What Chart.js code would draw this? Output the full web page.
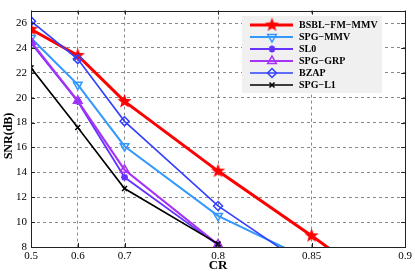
<!DOCTYPE html>
<html>
<head>
<meta charset="utf-8">
<script src="https://cdn.jsdelivr.net/npm/chart.js@4/dist/chart.umd.min.js"></script>
<style>
  html, body { margin: 0; padding: 0; background: #fff; }
  #wrap { width: 415px; height: 275px; }
</style>
</head>
<body>
<div id="wrap"><canvas id="c" width="415" height="275"></canvas></div>
<script>
// compression ratios; the original figure spaces them unevenly (index on x)
const crLabels = ["0.5", "0.6", "0.7", "0.8", "0.85", "0.9"];
const crIndex = [0, 1, 2, 4, 6, 8];
const snrTicks = [8, 10, 12, 14, 16, 18, 20, 22, 24, 26];

const seriesNames = ["BSBL\u2212FM\u2212MMV", "SPG\u2212MMV", "SL0", "SPG\u2212GRP", "BZAP", "SPG\u2212L1"];
const bsblFmMmv = [25.5, 23.4, 19.7, 14.1, 8.9, 3.5];
const spgMmv = [24.8, 21.05, 16.1, 10.5, 6.9, null];
const sl0 = [24.4, 19.7, 13.6, 8.15, null, null];
const spgGrp = [24.5, 19.75, 14.2, 8.2, null, null];
const bzap = [26.15, 23.1, 18.1, 11.3, 6.2, null];
const spgL1 = [22.4, 17.6, 12.7, 8.25, null, null];

const serif = "'Liberation Serif', 'DejaVu Serif', serif";

function starImage(r, color) {
  const s = Math.ceil(r * 2 + 2);
  const c = document.createElement("canvas");
  c.width = s;
  c.height = s;
  const g = c.getContext("2d");
  g.fillStyle = color;
  g.beginPath();
  for (let i = 0; i < 10; i++) {
    const rad = i % 2 ? r * 0.42 : r;
    const a = -Math.PI / 2 + (i * Math.PI) / 5;
    g.lineTo(s / 2 + rad * Math.cos(a), s / 2 + rad * Math.sin(a));
  }
  g.closePath();
  g.fill();
  return c;
}

function pts(values) {
  return values.map((v, i) => ({ x: crIndex[i], y: v }));
}

const styles = [
  { color: "#ff0000", width: 3, point: starImage(7.5, "#ff0000"), radius: 7, bw: 0, fill: "#ff0000" },
  { color: "#3399ff", width: 2, point: "triangle", rotation: 180, radius: 5, bw: 1.5, fill: "rgba(0,0,0,0)" },
  { color: "#6633ff", width: 1.8, point: "star", radius: 3.5, bw: 2, fill: "#6633ff" },
  { color: "#a633f5", width: 2.2, point: "triangle", radius: 5, bw: 1.5, fill: "rgba(0,0,0,0)" },
  { color: "#3340ff", width: 1.6, point: "rectRot", radius: 4.5, bw: 1.5, fill: "rgba(0,0,0,0)" },
  { color: "#000000", width: 1.6, point: "crossRot", radius: 3.5, bw: 1.5, fill: "#000000" },
];
const allValues = [bsblFmMmv, spgMmv, sl0, spgGrp, bzap, spgL1];

const datasets = allValues.map((vals, i) => {
  const s = styles[i];
  return {
    label: seriesNames[i],
    data: pts(vals),
    borderColor: s.color,
    backgroundColor: s.fill,
    borderWidth: s.width,
    pointStyle: s.point,
    pointRotation: s.rotation || 0,
    pointRadius: s.radius,
    pointBorderWidth: s.bw,
    pointBackgroundColor: s.fill,
    pointBorderColor: s.color,
    tension: 0,
    spanGaps: false,
    clip: 0,
    order: 6 - i,
  };
});

const framePlugin = {
  id: "frame",
  afterDatasetsDraw(chart) {
    const { ctx, chartArea: a, scales } = chart;
    ctx.save();
    ctx.strokeStyle = "#222";
    ctx.lineWidth = 1;
    ctx.setLineDash([]);
    ctx.beginPath();
    snrTicks.forEach((t) => {
      const y = Math.round(scales.y.getPixelForValue(t)) + 0.5;
      ctx.moveTo(a.left, y); ctx.lineTo(a.left + 4, y);
      ctx.moveTo(a.right, y); ctx.lineTo(a.right - 4, y);
    });
    crIndex.forEach((t) => {
      const x = Math.round(scales.x.getPixelForValue(t)) + 0.5;
      ctx.moveTo(x, a.bottom); ctx.lineTo(x, a.bottom - 4);
      ctx.moveTo(x, a.top); ctx.lineTo(x, a.top + 4);
    });
    ctx.stroke();
    ctx.strokeRect(Math.round(a.left) + 0.5, Math.round(a.top) + 0.5,
      Math.round(a.right - a.left), Math.round(a.bottom - a.top));

    // axis titles
    ctx.fillStyle = "#000";
    ctx.font = "bold 13px " + serif;
    ctx.textAlign = "center";
    ctx.textBaseline = "middle";
    ctx.fillText("CR", (a.left + a.right) / 2, 266);
    ctx.save();
    ctx.translate(9, 136);
    ctx.rotate(-Math.PI / 2);
    ctx.font = "bold 12px " + serif;
    ctx.fillText("SNR(dB)", 0, 0);
    ctx.restore();

    // legend box
    const bx = 242, by = 16, bw = 140, bh = 77;
    ctx.fillStyle = "#f0f0f0";
    ctx.fillRect(bx, by, bw, bh);
    chart.data.datasets.forEach((ds, i) => {
      const y = by + 9 + i * 12;
      ctx.strokeStyle = ds.borderColor;
      ctx.lineWidth = ds.borderWidth;
      ctx.beginPath();
      ctx.moveTo(bx + 8, y);
      ctx.lineTo(bx + 51, y);
      ctx.stroke();
      ctx.fillStyle = ds.pointBackgroundColor;
      ctx.strokeStyle = ds.pointBorderColor;
      ctx.lineWidth = ds.pointBorderWidth;
      Chart.helpers.drawPoint(ctx, {
        pointStyle: ds.pointStyle,
        rotation: ds.pointRotation,
        radius: ds.pointRadius,
        borderWidth: ds.pointBorderWidth,
      }, bx + 30, y);
      ctx.fillStyle = "#000";
      ctx.font = "bold 10px " + serif;
      ctx.textAlign = "left";
      ctx.fillText(ds.label, bx + 57, y + 0.5);
    });
    ctx.restore();
  },
};

new Chart(document.getElementById("c"), {
  type: "line",
  data: { datasets },
  options: {
    responsive: false,
    animation: false,
    events: [],
    layout: { padding: { top: 0, right: 6, left: 0, bottom: 0 } },
    plugins: { legend: { display: false }, tooltip: { enabled: false } },
    scales: {
      x: {
        type: "linear",
        min: 0,
        max: 8,
        afterBuildTicks: (s) => { s.ticks = crIndex.map((v) => ({ value: v })); },
        afterFit: (s) => { s.height = 28; },
        ticks: {
          color: "#000",
          font: { family: serif, size: 11 },
          padding: 3,
          maxRotation: 0,
          autoSkip: false,
          callback: (v) => crLabels[crIndex.indexOf(v)],
        },
        grid: { color: "#8a8a8a", lineWidth: 1, drawTicks: false },
        border: { display: false, dash: [3, 3] },
      },
      y: {
        min: 8,
        max: 27,
        afterBuildTicks: (s) => { s.ticks = snrTicks.map((v) => ({ value: v })); },
        afterFit: (s) => { s.width = 31; },
        ticks: {
          color: "#000",
          font: { family: serif, size: 11 },
          padding: 4,
        },
        grid: { color: "#8a8a8a", lineWidth: 1, drawTicks: false },
        border: { display: false, dash: [3, 3] },
      },
    },
  },
  plugins: [framePlugin],
});
</script>
</body>
</html>
